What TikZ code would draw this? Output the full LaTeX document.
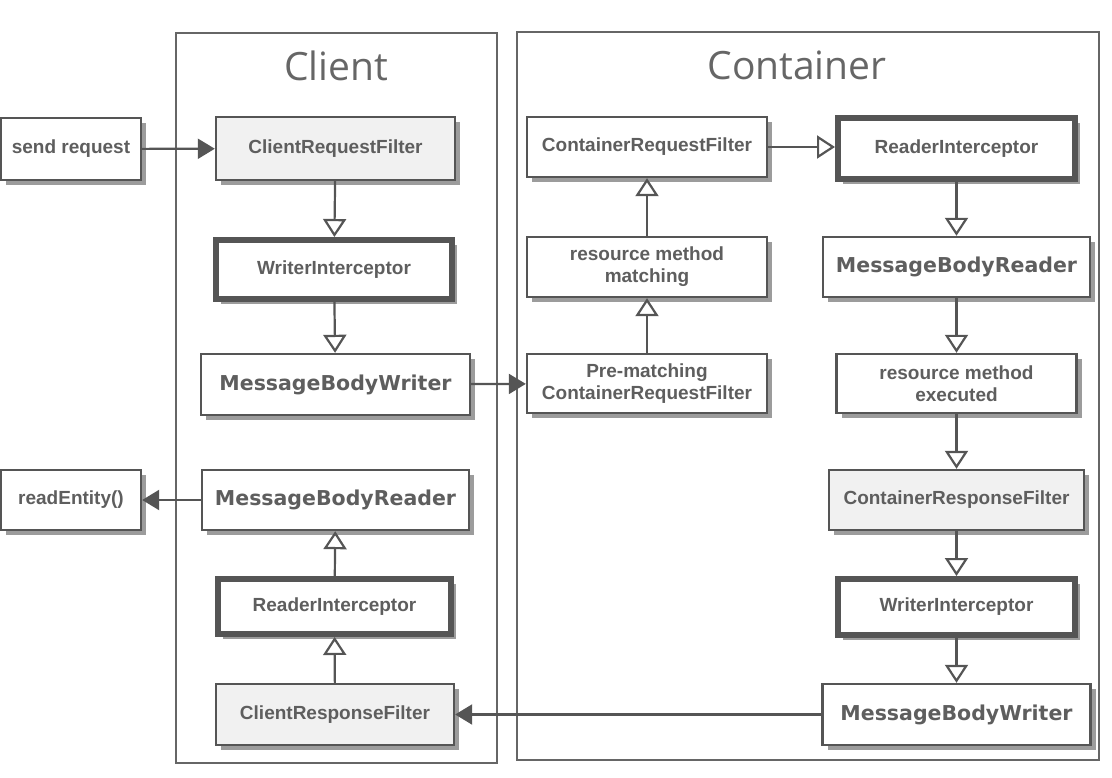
\documentclass[tikz,border=0pt]{standalone}
\usepackage{fontspec}
\setmainfont{Liberation Sans}
\newfontfamily\titlefont{Open Sans}
\newfontfamily\mbfont{DejaVu Sans}
\usetikzlibrary{arrows.meta,shadows}
\definecolor{linegray}{HTML}{555555}
\definecolor{framegray}{HTML}{666666}
\definecolor{textgray}{HTML}{5E5E5E}
\definecolor{filtergray}{HTML}{F1F1F1}
\definecolor{shadegray}{HTML}{9C9C9C}

\begin{document}
\begin{tikzpicture}[x=1pt,y=1pt,
	box/.style={draw=linegray,line width=2.4pt,fill=white,text=textgray,align=center,inner sep=0pt,
		font=\fontsize{19}{22}\selectfont\bfseries,
		drop shadow={shadow xshift=5pt,shadow yshift=-5pt,fill=shadegray,opacity=1}},
	filterbox/.style={box,fill=filtergray},
	thickbox/.style={box,line width=6pt},
	mbbox/.style={box,font=\mbfont\fontsize{20.5}{24}\selectfont\bfseries},
	frame/.style={draw=framegray,line width=1.8pt},
	title/.style={text=framegray,font=\titlefont\fontsize{39}{44}\selectfont},
	flow/.style={draw=linegray,line width=2.2pt,-{Triangle[open,length=18pt,width=23pt]}},
	call/.style={draw=linegray,line width=2.2pt,-{Triangle[length=17pt,width=20pt]}}]
				\useasboundingbox (0,0) rectangle (1112,-778);
				% frames
				\draw[frame] (176,-33) rectangle (497,-763);
				\draw[frame] (517,-32) rectangle (1099,-760);
				\node[title] (clienttitle) at (336,-66) {Client};
				\node[title] (containertitle) at (797,-65) {Container};
				% client side
				\node[box,minimum width=140pt,minimum height=62pt] (sendreq) at (71,-149) {send request};
				\node[filterbox,minimum width=239pt,minimum height=63pt] (creqf) at (335.5,-148.5) {ClientRequestFilter};
				\node[thickbox,minimum width=236pt,minimum height=59pt] (cwi) at (334,-269.5) {WriterInterceptor};
				\node[mbbox,minimum width=269pt,minimum height=61pt] (cmbw) at (335.5,-384.5) {MessageBodyWriter};
				\node[mbbox,minimum width=267pt,minimum height=60pt] (cmbr) at (335.5,-500) {MessageBodyReader};
				\node[box,minimum width=140pt,minimum height=60pt] (readent) at (71,-500) {readEntity()};
				\node[thickbox,minimum width=233pt,minimum height=55pt] (cri) at (334.5,-606.5) {ReaderInterceptor};
				\node[filterbox,minimum width=238pt,minimum height=61pt] (crespf) at (335,-714.5) {ClientResponseFilter};
				% container side
				\node[box,minimum width=240pt,minimum height=60pt] (sreqf) at (647,-147) {ContainerRequestFilter};
				\node[box,minimum width=240pt,minimum height=60pt] (match) at (647,-267) {resource method\\matching};
				\node[box,minimum width=240pt,minimum height=59pt] (prematch) at (647,-383.5) {Pre-matching\\ContainerRequestFilter};
				\node[thickbox,minimum width=237pt,minimum height=61pt] (sri) at (956.5,-148.5) {ReaderInterceptor};
				\node[mbbox,minimum width=267pt,minimum height=60pt] (smbr) at (956.5,-267) {MessageBodyReader};
				\node[box,minimum width=240pt,minimum height=59pt] (exec) at (956.5,-383.5) {resource method\\executed};
				\node[filterbox,minimum width=255pt,minimum height=60pt] (srespf) at (956.5,-500) {ContainerResponseFilter};
				\node[thickbox,minimum width=237pt,minimum height=56pt] (swi) at (956.5,-607) {WriterInterceptor};
				\node[mbbox,minimum width=268pt,minimum height=61pt] (smbw) at (956.5,-714.5) {MessageBodyWriter};
				% request path
				\draw[call] (sendreq) -- (creqf);
				\draw[flow] (creqf) -- (cwi);
				\draw[flow] (cwi) -- (cmbw);
				\draw[call] (cmbw) -- (prematch);
				\draw[flow] (prematch) -- (match);
				\draw[flow] (match) -- (sreqf);
				\draw[flow] (sreqf.east) -- (sri.west |- sreqf.east);
				\draw[flow] (sri) -- (smbr);
				\draw[flow] (smbr) -- (exec);
				% response path
				\draw[flow] (exec) -- (srespf);
				\draw[flow] (srespf) -- (swi);
				\draw[flow] (swi) -- (smbw);
				\draw[call] (smbw) -- (crespf);
				\draw[flow] (crespf) -- (cri);
				\draw[flow] (cri) -- (cmbr);
				\draw[call] (cmbr) -- (readent);
\end{tikzpicture}
\end{document}
